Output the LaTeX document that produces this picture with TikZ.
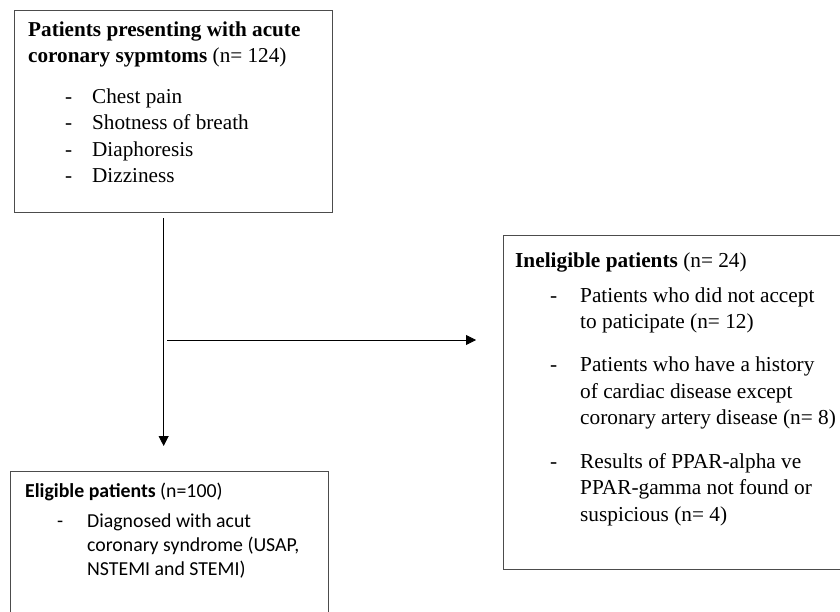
\documentclass[tikz,border=0pt]{standalone}
\usepackage{fontspec}
\setmainfont{Liberation Serif}
\newfontfamily\calfont{Carlito}
\usetikzlibrary{arrows.meta}
\definecolor{boxgray}{gray}{0.3}
\begin{document}
\begin{tikzpicture}[x=1pt,y=-1pt,
  box/.style={draw=boxgray, line width=1.3pt, rectangle, inner sep=0pt, anchor=north west},
  arr/.style={draw=black, line width=0.8pt, -{Triangle[length=10pt,width=10pt]}},
  txt/.style={anchor=base west, inner sep=0pt, align=left}]
\useasboundingbox (0,0) rectangle (840,612);
\clip (0,0) rectangle (840,612);
\node[box, minimum width=318pt, minimum height=202pt] (top) at (14,10) {};
\node[box, minimum width=345pt, minimum height=334pt] (inel) at (503,235) {};
\node[box, minimum width=318pt, minimum height=150pt] (elig) at (10,471) {};

\node[txt] (toptext) at (28,36.5) {\fontsize{21.2}{26.5}\selectfont
\begin{tabular}[t]{@{\hspace{37pt}}p{27pt}@{}l@{}}
\multicolumn{2}{@{}l@{}}{\textbf{Patients presenting with acute}}\\
\multicolumn{2}{@{}l@{}}{\textbf{coronary sypmtoms} (n= 124)}\\[14pt]
-& Chest pain\\
-& Shotness of breath\\
-& Diaphoresis\\
-& Dizziness
\end{tabular}};

\node[txt] (ineltext) at (515,267) {\fontsize{21.3}{26.5}\selectfont
\begin{tabular}[t]{@{\hspace{35pt}}p{30pt}@{}l@{}}
\multicolumn{2}{@{}l@{}}{\textbf{Ineligible patients} (n= 24)}\\[9pt]
-& Patients who did not accept\\
& to paticipate (n= 12)\\[16pt]
-& Patients who have a history\\
& of cardiac disease except\\
& coronary artery disease (n= 8)\\[17pt]
-& Results of PPAR-alpha ve\\
& PPAR-gamma not found or\\
& suspicious (n= 4)
\end{tabular}};

\node[txt] (eligtext) at (25,497) {\calfont\fontsize{19.8}{24}\selectfont
\begin{tabular}[t]{@{\hspace{32pt}}p{30pt}@{}l@{}}
\multicolumn{2}{@{}l@{}}{\textbf{Eligible patients} (n=100)}\\[6pt]
-& Diagnosed with acut\\
& coronary syndrome (USAP,\\
& NSTEMI and STEMI)
\end{tabular}};

\coordinate (branch) at (163,340);
\draw[arr] ([xshift=-10pt,yshift=-5pt]top.south) -- ([xshift=-6pt,yshift=25pt]elig.north);
\draw[arr] ([xshift=4pt]branch) -- ([xshift=-27pt]inel.west |- branch);
\end{tikzpicture}
\end{document}
